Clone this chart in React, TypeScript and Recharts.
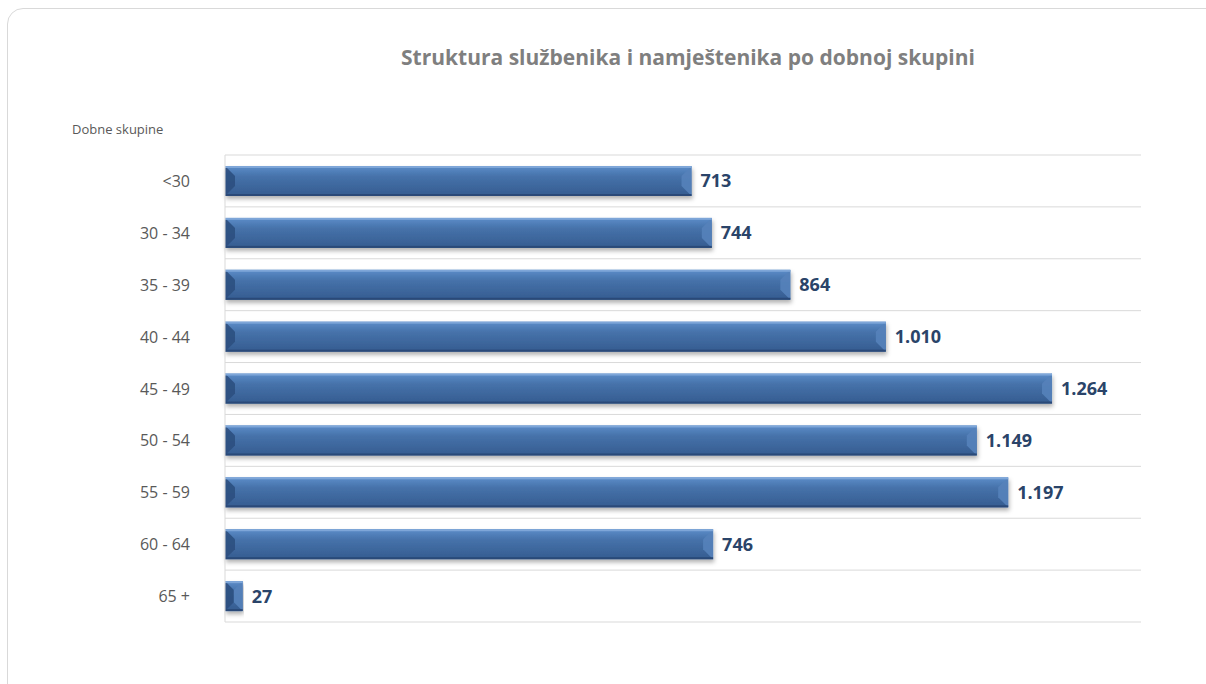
import React from "react";
import { BarChart, Bar, XAxis, YAxis, CartesianGrid, LabelList } from "recharts";

const categories = ["<30", "30 - 34", "35 - 39", "40 - 44", "45 - 49", "50 - 54", "55 - 59", "60 - 64", "65 +"];
const values = [713, 744, 864, 1010, 1264, 1149, 1197, 746, 27];
const labels = ["713", "744", "864", "1.010", "1.264", "1.149", "1.197", "746", "27"];

const data = categories.map((c, i) => ({ cat: c, value: values[i], label: labels[i] }));

const FONT = "'Open Sans', 'Noto Sans', sans-serif";

const BevelBar = (props: any) => {
  const { x, y, width, height } = props;
  if (width <= 0) return null;
  const b = Math.min(10, width / 2);
  return (
    <g filter="url(#shadow)">
      <rect x={x} y={y} width={width} height={height} fill="url(#barGrad)" />
      <polygon points={`${x},${y} ${x + b},${y + b} ${x + b},${y + height - b} ${x},${y + height}`} fill="#2C4F80" opacity={0.9} />
      <polygon points={`${x + width},${y} ${x + width - b},${y + b} ${x + width - b},${y + height - b} ${x + width},${y + height}`} fill="#5582BA" opacity={0.9} />
      <rect x={x} y={y} width={width} height={2} fill="#7EA6D8" />
      <rect x={x} y={y + height - 2} width={width} height={2} fill="#2A4A78" />
    </g>
  );
};

const YTick = (props: any) => {
  const { y, payload } = props;
  return (
    <text x={190} y={y} dy={6} textAnchor="end" fill="#595959" fontSize={16} fontFamily={FONT}>
      {payload.value}
    </text>
  );
};

export default function App() {
  return (
    <div style={{ position: "absolute", left: 0, top: 0, width: 1206, height: 684, background: "#fff", overflow: "hidden" }}>
      <div
        style={{
          position: "absolute",
          left: 7,
          top: 8,
          width: 1220,
          height: 700,
          border: "1px solid #d9d9d9",
          borderRadius: 16,
          boxSizing: "border-box",
        }}
      />
      <div style={{ position: "absolute", left: 0, top: 43, width: 1376, textAlign: "center", fontFamily: FONT, fontWeight: 700, fontSize: 21, color: "#7F7F7F" }}>
        Struktura službenika i namještenika po dobnoj skupini
      </div>
      <div style={{ position: "absolute", left: 72, top: 120, fontFamily: FONT, fontSize: 13, color: "#595959" }}>
        Dobne skupine
      </div>
      <div style={{ position: "absolute", left: 0, top: 0 }}>
        <BarChart
          width={1206}
          height={684}
          data={data}
          layout="vertical"
          margin={{ top: 155, right: 65, bottom: 62, left: 0 }}
          barSize={30}
        >
          <defs>
            <linearGradient id="barGrad" x1="0" y1="0" x2="0" y2="1">
              <stop offset="0%" stopColor="#5C8DC9" />
              <stop offset="35%" stopColor="#4672AA" />
              <stop offset="100%" stopColor="#355C90" />
            </linearGradient>
            <filter id="shadow" x="-5%" y="-20%" width="110%" height="160%">
              <feDropShadow dx="1" dy="3" stdDeviation="2" floodColor="#000" floodOpacity="0.3" />
            </filter>
          </defs>
          <CartesianGrid
            vertical={false}
            stroke="#d9d9d9"
            horizontalCoordinatesGenerator={({ offset }: any) =>
              categories.map((_, i) => offset.top + (i * offset.height) / categories.length).concat([offset.top + offset.height])
            }
          />
          <XAxis type="number" domain={[0, 1400]} hide />
          <YAxis
            type="category"
            dataKey="cat"
            width={225}
            axisLine={{ stroke: "#d9d9d9" }}
            tickLine={false}
            tick={<YTick />}
          />
          <Bar dataKey="value" isAnimationActive={false} shape={<BevelBar />}>
            <LabelList
              dataKey="label"
              position="right"
              offset={9}
              fill="#2A4469"
              fontSize={18}
              fontWeight={700}
              fontFamily={FONT}
            />
          </Bar>
        </BarChart>
      </div>
    </div>
  );
}
